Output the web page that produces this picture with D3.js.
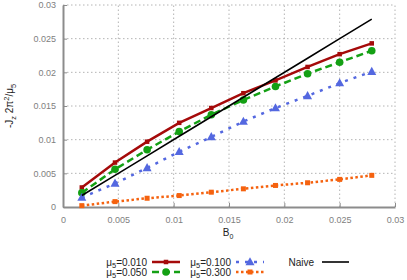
<!DOCTYPE html>
<html>
<head>
<meta charset="utf-8">
<script src="https://cdn.jsdelivr.net/npm/d3@7"></script>
<style>
  body { margin: 0; background: #fff; }
  text { font-family: "Liberation Sans", Arial, sans-serif; }
</style>
</head>
<body>
<div id="chart"></div>
<script>
var width = 407;
var height = 280;

// B0 values along the x axis
var b0 = [0.0017, 0.0047, 0.0076, 0.0105, 0.0134, 0.0163, 0.0192, 0.0221, 0.0250, 0.0279];

// -Jz 2pi^2/mu5 for each mu5
var mu010 = [0.0029, 0.0066, 0.0097, 0.0125, 0.0147, 0.0169, 0.0188, 0.0208, 0.0227, 0.0243];
var mu050 = [0.0021, 0.0056, 0.0085, 0.0112, 0.0137, 0.0159, 0.0179, 0.0198, 0.0215, 0.0232];
var mu100 = [0.0014, 0.0035, 0.0058, 0.0082, 0.0104, 0.0127, 0.0147, 0.0165, 0.0184, 0.0201];
var mu300 = [0.0002, 0.0008, 0.0013, 0.0017, 0.0022, 0.0027, 0.0032, 0.0036, 0.0041, 0.0047];
var naive = [0.0017, 0.0047, 0.0076, 0.0105, 0.0134, 0.0163, 0.0192, 0.0221, 0.0250, 0.0279];

var tickValues = [0, 0.005, 0.01, 0.015, 0.02, 0.025, 0.03];
var tickLabels = ["0", "0.005", "0.01", "0.015", "0.02", "0.025", "0.03"];

var series = [
  {label: "0.010", values: mu010, color: "#a50a0a", dash: null, marker: "square", size: 4.5},
  {label: "0.050", values: mu050, color: "#14a014", dash: "7,4", marker: "circle", size: 3.8},
  {label: "0.100", values: mu100, color: "#5468e0", dash: "3,6", marker: "triangle", size: 9},
  {label: "0.300", values: mu300, color: "#f5620f", dash: "2.5,2.5", marker: "square", size: 5}
];

var svg = d3.select("#chart").append("svg")
  .attr("width", width)
  .attr("height", height);

var xScale = d3.scaleLinear().domain([0, 0.03]).range([63, 395]);
var yScale = d3.scaleLinear().domain([0, 0.03]).range([207, 5]);

// grid
svg.append("g").selectAll("line")
  .data(tickValues.slice(1))
  .enter().append("line")
  .attr("x1", function(d) { return xScale(d); })
  .attr("x2", function(d) { return xScale(d); })
  .attr("y1", yScale(0))
  .attr("y2", yScale(0.03))
  .attr("stroke", "#b4b4b4")
  .attr("stroke-width", 1)
  .attr("stroke-dasharray", "1.5,2.5");

svg.append("g").selectAll("line")
  .data(tickValues.slice(1))
  .enter().append("line")
  .attr("y1", function(d) { return yScale(d); })
  .attr("y2", function(d) { return yScale(d); })
  .attr("x1", xScale(0))
  .attr("x2", xScale(0.03))
  .attr("stroke", "#b4b4b4")
  .attr("stroke-width", 1)
  .attr("stroke-dasharray", "1.5,2.5");

// axes (ticks pointing inward)
var xAxis = d3.axisBottom(xScale)
  .tickValues(tickValues)
  .tickFormat(function(d, i) { return tickLabels[i]; })
  .tickSizeInner(-4)
  .tickSizeOuter(0)
  .tickPadding(10);

var yAxis = d3.axisLeft(yScale)
  .tickValues(tickValues)
  .tickFormat(function(d, i) { return tickLabels[i]; })
  .tickSizeInner(-4)
  .tickSizeOuter(0)
  .tickPadding(7);

var gx = svg.append("g")
  .attr("transform", "translate(0," + yScale(0) + ")")
  .call(xAxis);
var gy = svg.append("g")
  .attr("transform", "translate(" + xScale(0) + ",0)")
  .call(yAxis);

[gx, gy].forEach(function(g) {
  g.select(".domain").attr("stroke", "#8c8c8c").attr("stroke-width", 2);
  g.selectAll(".tick line").attr("stroke", "#8c8c8c").attr("stroke-width", 1);
  g.selectAll(".tick text").attr("fill", "#808080").style("font-size", "9px")
    .style("font-family", "'Liberation Sans', Arial, sans-serif");
});

// axis titles
var xt = svg.append("text")
  .attr("x", 228)
  .attr("y", 236)
  .attr("text-anchor", "middle")
  .style("font-size", "10px")
  .attr("fill", "#222");
xt.append("tspan").text("B");
xt.append("tspan").attr("dy", 3).style("font-size", "7px").text("0");

var yt = svg.append("text")
  .attr("transform", "translate(13,106) rotate(-90)")
  .attr("text-anchor", "middle")
  .style("font-size", "10px")
  .attr("fill", "#222");
yt.append("tspan").text("-J");
yt.append("tspan").attr("dy", 3).style("font-size", "7.5px").text("z");
yt.append("tspan").attr("dy", -3).text(" 2\u03c0");
yt.append("tspan").attr("dy", -4).style("font-size", "7.5px").text("2");
yt.append("tspan").attr("dy", 4).text("/\u03bc");
yt.append("tspan").attr("dy", 3).style("font-size", "7.5px").text("5");

var line = d3.line()
  .x(function(d) { return xScale(d[0]); })
  .y(function(d) { return yScale(d[1]); });

function drawMarker(g, type, size, color, cx, cy) {
  if (type === "circle") {
    g.append("circle").attr("cx", cx).attr("cy", cy).attr("r", size).attr("fill", color);
  } else if (type === "square") {
    g.append("rect").attr("x", cx - size / 2).attr("y", cy - size / 2)
      .attr("width", size).attr("height", size).attr("fill", color);
  } else if (type === "triangle") {
    var h = size * 0.9;
    g.append("path")
      .attr("d", "M" + cx + "," + (cy - h * 0.6) + "L" + (cx + size / 2) + "," + (cy + h * 0.4) +
        "L" + (cx - size / 2) + "," + (cy + h * 0.4) + "Z")
      .attr("fill", color);
  }
}

series.forEach(function(s) {
  var pts = b0.map(function(b, i) { return [b, s.values[i]]; });
  svg.append("path")
    .datum(pts)
    .attr("d", line)
    .attr("fill", "none")
    .attr("stroke", s.color)
    .attr("stroke-width", 2.5)
    .attr("stroke-dasharray", s.dash);
  var mg = svg.append("g");
  pts.forEach(function(p) {
    drawMarker(mg, s.marker, s.size, s.color, xScale(p[0]), yScale(p[1]));
  });
});

var naivePts = b0.map(function(b, i) { return [b, naive[i]]; });
svg.append("path")
  .datum(naivePts)
  .attr("d", line)
  .attr("fill", "none")
  .attr("stroke", "#000")
  .attr("stroke-width", 1.6);

// legend
var legendPos = [
  {tx: 147, sx: 152, y: 262},
  {tx: 147, sx: 152, y: 272},
  {tx: 231, sx: 236, y: 262},
  {tx: 231, sx: 236, y: 272}
];
var legend = svg.append("g");
series.forEach(function(s, k) {
  var p = legendPos[k];
  var t = legend.append("text")
    .attr("x", p.tx)
    .attr("y", p.y + 3.5)
    .attr("text-anchor", "end")
    .style("font-size", "10px")
    .attr("fill", "#222");
  t.append("tspan").text("\u03bc");
  t.append("tspan").attr("dy", 2).style("font-size", "7.5px").text("5");
  t.append("tspan").attr("dy", -2).text("=" + s.label);
  legend.append("line")
    .attr("x1", p.sx).attr("x2", p.sx + 28)
    .attr("y1", p.y).attr("y2", p.y)
    .attr("stroke", s.color)
    .attr("stroke-width", 2.5)
    .attr("stroke-dasharray", s.dash);
  drawMarker(legend, s.marker, s.size, s.color, p.sx + 14, p.y);
});
legend.append("text")
  .attr("x", 314)
  .attr("y", 265.5)
  .attr("text-anchor", "end")
  .style("font-size", "10px")
  .attr("fill", "#222")
  .text("Naive");
legend.append("line")
  .attr("x1", 322).attr("x2", 349)
  .attr("y1", 262).attr("y2", 262)
  .attr("stroke", "#000")
  .attr("stroke-width", 1.6);
</script>
</body>
</html>
